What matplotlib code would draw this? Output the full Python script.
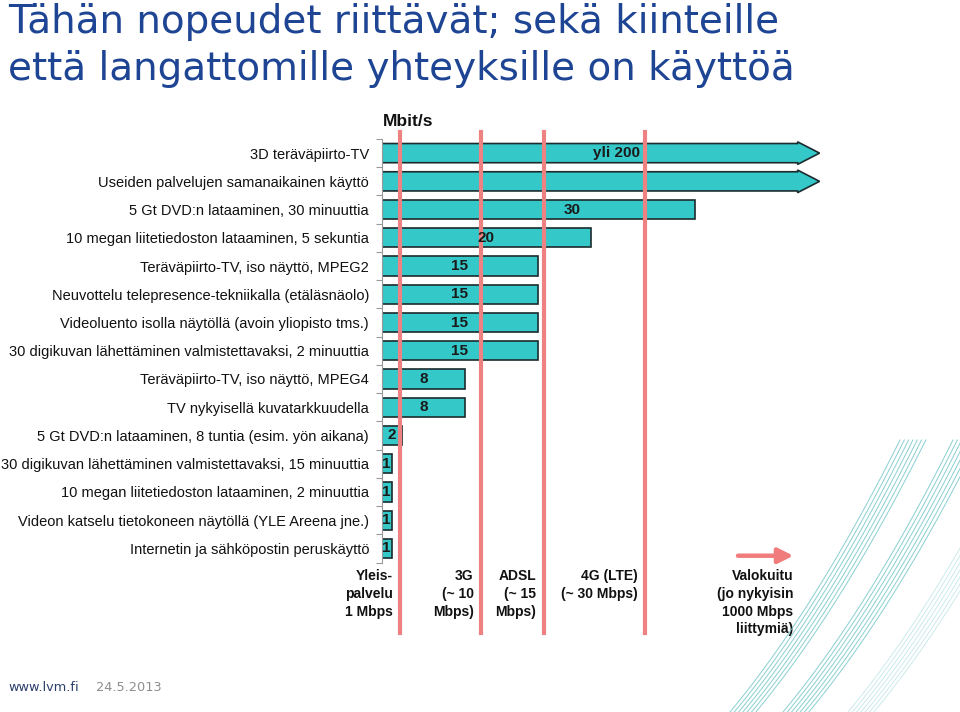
import numpy as np
import matplotlib.pyplot as plt
from matplotlib.patches import FancyArrow
from matplotlib.lines import Line2D

# --- data ---------------------------------------------------------------
tasks = [
    "3D teräväpiirto-TV",
    "Useiden palvelujen samanaikainen käyttö",
    "5 Gt DVD:n lataaminen, 30 minuuttia",
    "10 megan liitetiedoston lataaminen, 5 sekuntia",
    "Teräväpiirto-TV, iso näyttö, MPEG2",
    "Neuvottelu telepresence-tekniikalla (etäläsnäolo)",
    "Videoluento isolla näytöllä (avoin yliopisto tms.)",
    "30 digikuvan lähettäminen valmistettavaksi, 2 minuuttia",
    "Teräväpiirto-TV, iso näyttö, MPEG4",
    "TV nykyisellä kuvatarkkuudella",
    "5 Gt DVD:n lataaminen, 8 tuntia (esim. yön aikana)",
    "30 digikuvan lähettäminen valmistettavaksi, 15 minuuttia",
    "10 megan liitetiedoston lataaminen, 2 minuuttia",
    "Videon katselu tietokoneen näytöllä (YLE Areena jne.)",
    "Internetin ja sähköpostin peruskäyttö",
]
speeds = [200, 200, 30, 20, 15, 15, 15, 15, 8, 8, 2, 1, 1, 1, 1]
value_labels = ["yli 200", "", "30", "20", "15", "15", "15", "15",
                "8", "8", "2", "1", "1", "1", "1"]

tech_names = ["Yleis-\npalvelu\n1 Mbps", "3G\n(~ 10\nMbps)",
              "ADSL\n(~ 15\nMbps)", "4G (LTE)\n(~ 30 Mbps)"]
tech_lines = [1.8, 9.5, 15.5, 25.2]   # where the red lines sit (Mbit/s scale)
fiber_name = "Valokuitu\n(jo nykyisin\n1000 Mbps\nliittymiä)"

# --- styling -------------------------------------------------------------
BAR = "#35C8C8"
EDGE = "#1b2b2e"
RED = "#EE8282"
TITLE = "#1E4494"
XMAX = 42.9
ARROW_END = 41.9     # bars over the scale are drawn as arrows ending here
SANS = ["Liberation Sans", "DejaVu Sans"]

fig = plt.figure(figsize=(9.6, 7.12), dpi=100)
ax = fig.add_axes([381.5 / 960, 1 - 562.5 / 712, (830 - 381.5) / 960, 423.5 / 712])

y = np.arange(len(tasks))
for i, v in enumerate(speeds):
    if v > XMAX:
        ax.add_patch(FancyArrow(0, i, ARROW_END, 0, width=0.68, head_width=0.8,
                                head_length=2.1, length_includes_head=True,
                                facecolor=BAR, edgecolor=EDGE, lw=1.2, zorder=2))
    else:
        ax.barh(i, v, height=0.68, color=BAR, edgecolor=EDGE, lw=1.2, zorder=2)

for i, (v, lab) in enumerate(zip(speeds, value_labels)):
    if not lab:
        continue
    if v > XMAX:
        lx = 22.5
    elif v >= 30:
        lx = 18.2
    else:
        lx = v / 2
    ax.text(lx, i, lab, ha="center", va="center", fontsize=11,
            fontweight="bold", family=SANS, color="#1a1a1a", zorder=4)

for xv in tech_lines:
    ax.axvline(xv, ymin=-0.166, ymax=1.017, color=RED, lw=3, clip_on=False, zorder=3)

for xv, name in zip(tech_lines, tech_names):
    ax.text(xv - 0.7, 14.74, name, ha="right", va="top", multialignment="right",
            fontsize=10, fontweight="bold", family=SANS, color="#111111",
            linespacing=1.33, clip_on=False)

ax.text(39.38, 14.74, fiber_name, ha="right", va="top", multialignment="right",
        fontsize=10, fontweight="bold", family=SANS, color="#111111",
        linespacing=1.33, clip_on=False)
ax.annotate("", xy=(39.4, 14.26), xytext=(34.1, 14.26), annotation_clip=False,
            arrowprops=dict(arrowstyle="-|>,head_length=0.9,head_width=0.45",
                            color="#F07C7C", lw=3.2, shrinkA=0, shrinkB=0))

ax.set_xlim(0, XMAX)
ax.set_ylim(14.5, -0.5)
ax.set_xticks([])
ax.set_yticks(y)
ax.set_yticklabels(tasks, fontsize=10.55, family=SANS, color="#111111")
ax.set_yticks(np.arange(-0.5, len(tasks), 1), minor=True)
ax.tick_params(axis="y", which="major", length=0, pad=9)
ax.tick_params(axis="y", which="minor", length=4, color="#999999", width=0.8)
for s in ["top", "right", "bottom"]:
    ax.spines[s].set_visible(False)
ax.spines["left"].set_color("#999999")
ax.spines["left"].set_linewidth(0.8)

# --- texts around the chart -------------------------------------------------
fig.text(383 / 960, 1 - 126 / 712, "Mbit/s", fontsize=12.5, fontweight="bold",
         family=SANS, color="#111111", va="baseline")
fig.text(8 / 960, 1 - 33 / 712, "Tähän nopeudet riittävät; sekä kiinteille",
         fontsize=28, family="DejaVu Sans", color=TITLE, va="baseline")
fig.text(8 / 960, 1 - 80 / 712, "että langattomille yhteyksille on käyttöä",
         fontsize=28, family="DejaVu Sans", color=TITLE, va="baseline")
fig.text(8 / 960, 1 - 691 / 712, "www.lvm.fi", fontsize=9.3, family="DejaVu Sans",
         color="#2B3F6B", va="baseline")
fig.text(96 / 960, 1 - 691 / 712, "24.5.2013", fontsize=9.3, family="DejaVu Sans",
         color="#8E8E8E", va="baseline")

# decorative curved lines in the bottom right corner
t = np.linspace(0, 1, 80)
p0, p1, p2 = np.array([730, 712]), np.array([815, 610]), np.array([900, 440])
base = ((1 - t) ** 2)[:, None] * p0 + (2 * (1 - t) * t)[:, None] * p1 + (t ** 2)[:, None] * p2
for shift, alpha in [(0, 0.8), (53, 0.8), (118, 0.35)]:
    for k in range(7):
        px = base[:, 0] + shift + k * 4.3
        py = base[:, 1]
        fig.add_artist(Line2D(px / 960, 1 - py / 712, transform=fig.transFigure,
                              color="#6CC3C6", lw=0.7, alpha=alpha))

fig.savefig("out.png", dpi=100)
